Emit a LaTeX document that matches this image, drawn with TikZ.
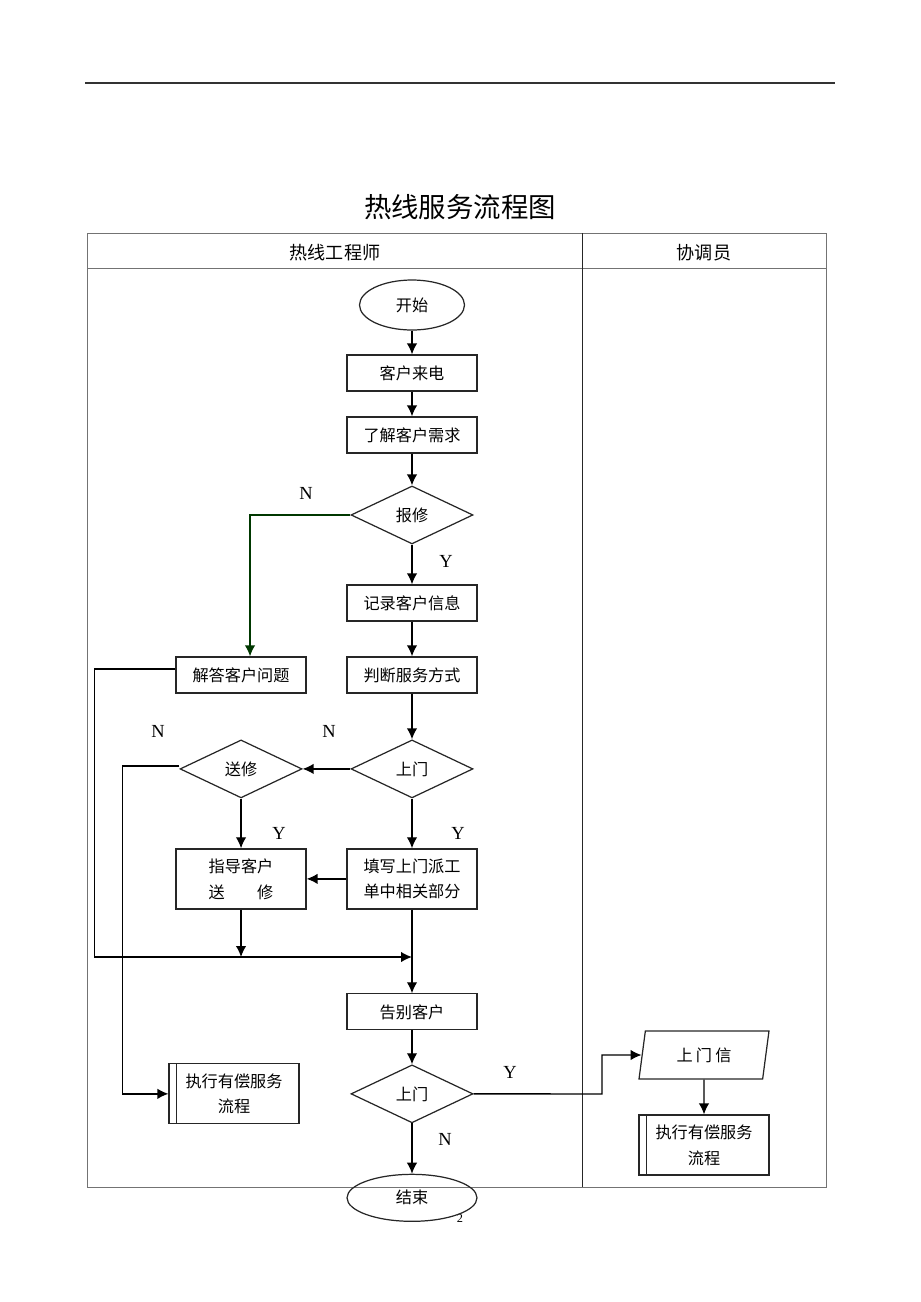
\documentclass[tikz,border=0pt]{standalone}
\usepackage{fontspec}
\setmainfont{Liberation Serif}
\newfontfamily\cjk{Noto Sans CJK SC}
\usepackage{tikz}
\usetikzlibrary{arrows.meta}
\usetikzlibrary{shapes.geometric}
\usetikzlibrary{positioning}
\colorlet{nline}{green!22!black}
\colorlet{laneline}{black!55}

\begin{document}
\begin{tikzpicture}[x=0.02cm,y=-0.02cm,
    >={Latex[width=2.1mm,length=2.2mm]},
    flow/.style = {line width=0.8pt},
    proc/.style = {rectangle, draw=black!85, line width=0.7pt,
                   minimum width=2.6cm, minimum height=0.72cm, inner sep=1pt,
                   align=center, font=\cjk\fontsize{9.2}{14.7}\selectfont},
    tallproc/.style = {proc, minimum height=1.2cm},
    decide/.style = {diamond, draw=black!85, line width=0.7pt,
                     minimum width=2.44cm, minimum height=1.16cm, inner sep=0pt,
                     font=\cjk\fontsize{9.2}{11}\selectfont},
    term/.style = {ellipse, draw=black!85, line width=0.7pt, inner sep=0pt,
                   font=\cjk\fontsize{9.2}{11}\selectfont},
    iobox/.style = {trapezium, trapezium left angle=67, trapezium right angle=113,
                    trapezium stretches body, draw=black!85, line width=0.7pt,
                    minimum width=2.6cm, minimum height=0.96cm, inner sep=0pt,
                    font=\cjk\fontsize{9.2}{11}\selectfont},
    yn/.style = {font=\fontsize{10.5}{12}\selectfont},
    lanehead/.style = {font=\cjk\fontsize{10.3}{12}\selectfont}]
  \useasboundingbox (0,0) rectangle (920,1302);

  % page rule, title and lanes
  \draw[line width=0.7pt, black!80] (85,83) -- (835,83);
  \node (title) at (460,207) {\cjk\fontsize{15.6}{18}\selectfont 热线服务流程图};
  \draw[laneline, line width=0.5pt] (87,233) rectangle (826,1187);
  \draw[laneline, line width=0.5pt] (87,268) -- (826,268);
  \draw[black!85, line width=0.45pt] (582,233) -- (582,1187);
  \node (lane1) [lanehead] at (335,253) {热线工程师};
  \node (lane2) [lanehead] at (704,253) {协调员};
  \node (pg) at (460,1218) {\fontsize{7}{8}\selectfont 2};

  % main column
  \node (start) [term, minimum width=2.1cm, minimum height=1cm] at (412,305) {开始};
  \node (call) [proc, node distance=1.36cm, below of=start] {客户来电};
  \node (need) [proc, node distance=1.24cm, below of=call] {了解客户需求};
  \node (bx) [decide, node distance=1.6cm, below of=need] {报修};
  \node (rec) [proc, node distance=1.76cm, below of=bx] {记录客户信息};
  \node (judge) [proc, node distance=1.44cm, below of=rec] {判断服务方式};
  \node (m1) [decide, node distance=1.88cm, below of=judge] {上门};
  \node (fill) [tallproc, node distance=2.2cm, below of=m1] {填写上门派工\\单中相关部分};
  \node (bye) [proc, node distance=2.66cm, below of=fill] {告别客户};
  \node (m2) [decide, node distance=1.64cm, below of=bye] {上门};
  \node (end) [term, minimum width=2.6cm, minimum height=0.94cm,
               node distance=2.08cm, below of=m2] {结束};

  % left column
  \node (ans) [proc, node distance=3.42cm, left of=judge] {解答客户问题};
  \node (sx) [decide, node distance=3.42cm, left of=m1] {送修};
  \node (guide) [tallproc, node distance=3.42cm, left of=fill] {指导客户\\送\hspace{2em}修};
  \node (pay1) [tallproc, node distance=3.56cm, left of=m2] {执行有偿服务\\流程};
  \draw[black!85, line width=0.7pt] ([xshift=.16cm]pay1.north west) -- ([xshift=.16cm]pay1.south west);

  % coordinator lane
  \node (io) [iobox] at (704,1055) {上\hspace{.2em}门\hspace{.2em}信};
  \node (pay2) [tallproc, node distance=1.8cm, below of=io] {执行有偿服务\\流程};
  \draw[black!85, line width=0.7pt] ([xshift=.16cm]pay2.north west) -- ([xshift=.16cm]pay2.south west);

  % Y / N
  \node (nbx) [yn] at (306,493) {N};
  \node (ybx) [yn] at (446,561) {Y};
  \node (nsx) [yn] at (158,731) {N};
  \node (nm1) [yn] at (329,731) {N};
  \node (ysx) [yn] at (279,833) {Y};
  \node (ym1) [yn] at (458,833) {Y};
  \node (ym2) [yn] at (510,1072) {Y};
  \node (nm2) [yn] at (445,1139) {N};

  \coordinate (mrg) at (412,957);
  \coordinate (jog) at (602,1094);

  \path[->,flow]
    (start) edge (call)
    (call) edge (need)
    (need) edge (bx)
    (bx) edge (rec)
    (rec) edge (judge)
    (judge) edge (m1)
    (m1) edge (sx)
    (m1) edge (fill)
    (fill) edge (guide)
    (sx) edge (guide)
    (fill) edge (bye)
    (bye) edge (m2)
    (m2) edge (end)
    (io) edge (pay2);

  \draw[->,flow,nline] (bx.west) -| ([xshift=.18cm]ans.north);
  \draw[->,flow] (guide) -- (guide |- mrg);
  \draw[->,flow] ([yshift=.12cm]ans.west) -- ++(-81,0) |- (mrg);
  \draw[->,flow] ([yshift=.06cm]sx.west) -- ++(-57,0) |- (pay1.west);
  \draw[->,flow] (m2.east) -- (jog) |- (io.west);
\end{tikzpicture}
\end{document}
